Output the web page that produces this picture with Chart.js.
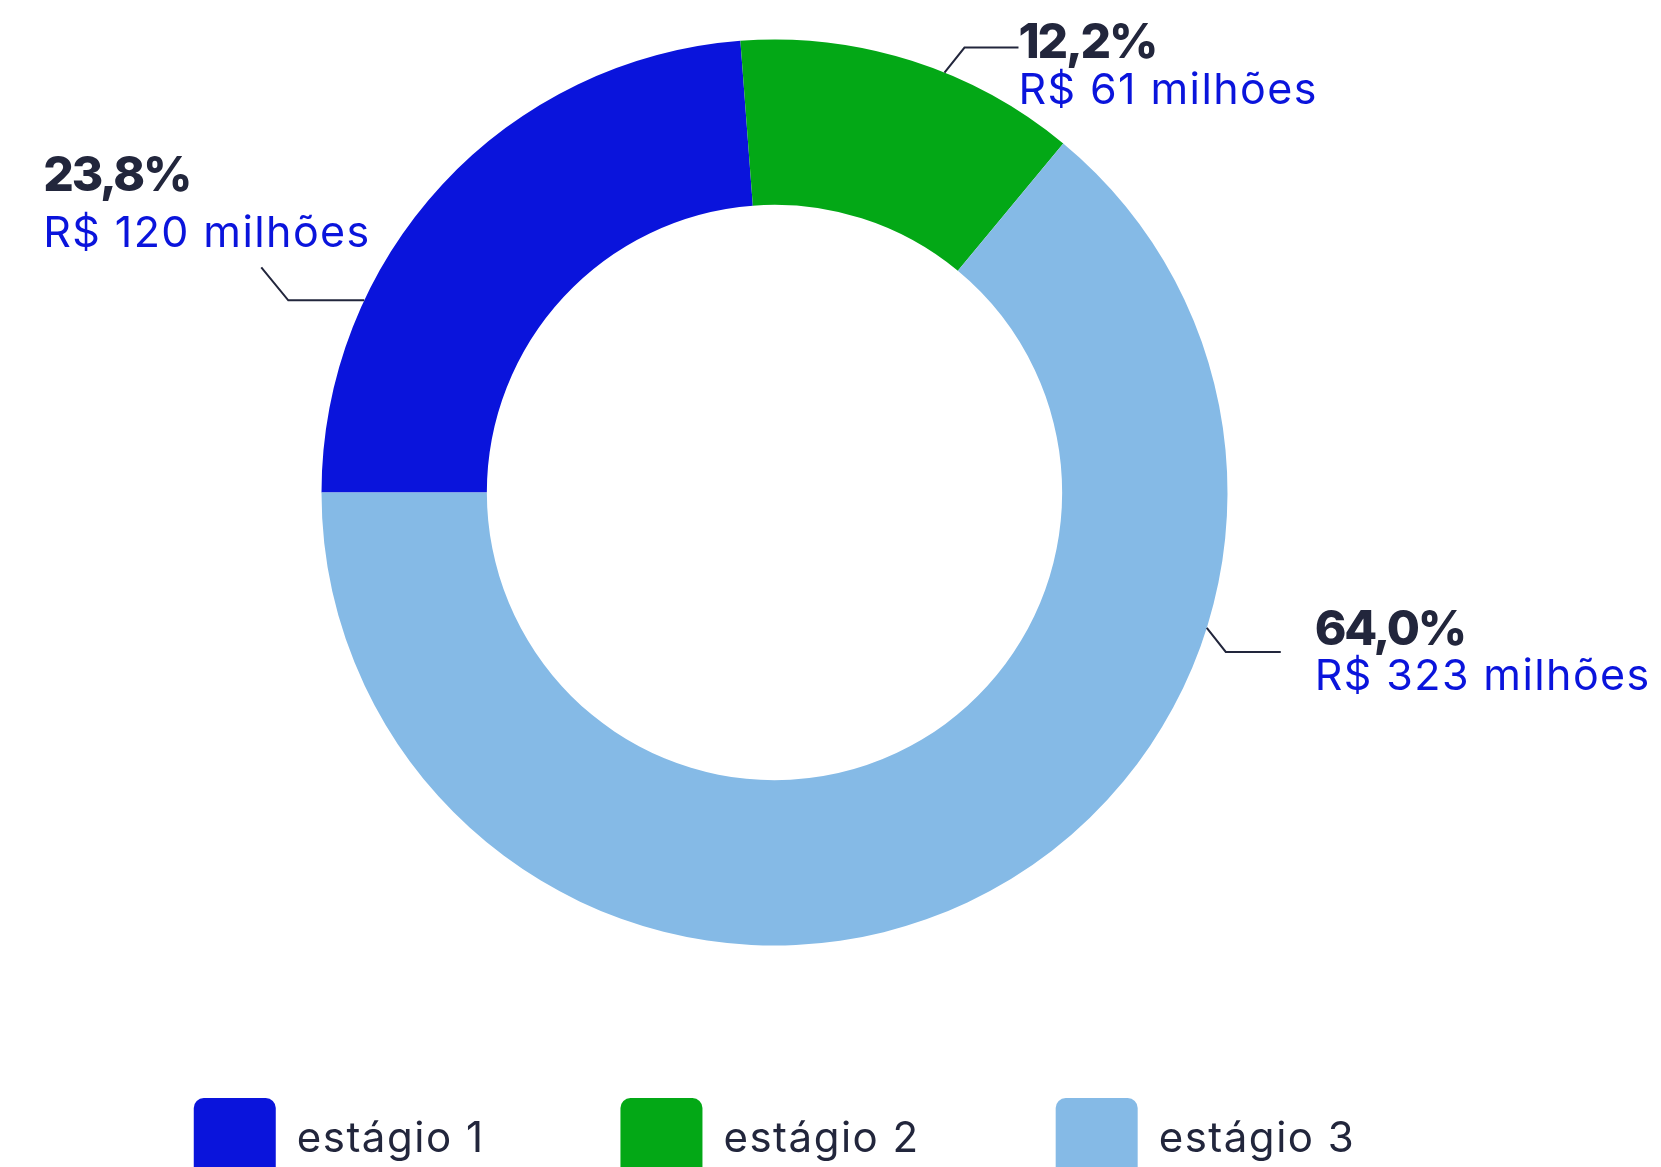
<!DOCTYPE html>
<html lang="pt-BR">
<head>
<meta charset="utf-8">
<script src="https://cdn.jsdelivr.net/npm/chart.js@4.4.1/dist/chart.umd.min.js"></script>
<style>
  html, body { margin: 0; padding: 0; background: #fff; overflow: hidden; }
  #wrap { width: 1661px; height: 1190px; }
</style>
</head>
<body>
<div id="wrap"><canvas id="estagios-chart" width="1661" height="1190"></canvas></div>
<script>
const stageLabels = ['estágio 1', 'estágio 2', 'estágio 3'];
const stageShares = [23.8, 12.2, 64.0];
const stageAmounts = [120, 61, 323];
const stageColors = ['#0a14dc', '#03a816', '#85bae6'];

const DARK = '#22263c';
const FONT = 'Inter, "Noto Sans", sans-serif';

// callout: where it leaves the ring (deg), the leader segments, text offset from leader end
const callouts = [
  { angle: -154.9, segs: [[-76, 0], [-27, -33]], text: [-218, -76, -20] },
  { angle: -67.96, segs: [[20, -25], [54, 0]], text: [0, 10, 56] },
  { angle: 17.4, segs: [[19, 24], [55, 0]], text: [34, -7, 38] }
];

const fmtShare = v => v.toFixed(1).replace('.', ',') + '%';
const fmtAmount = v => `R$ ${v} milhões`;

// wider tracking so the fallback font fills the same width as the original
// (set before layout too, so the legend measures what it draws)
const trackingPlugin = {
  id: 'tracking',
  beforeLayout(chart) { chart.ctx.letterSpacing = '1.5px'; },
  beforeDraw(chart) { chart.ctx.letterSpacing = '1.5px'; }
};

const calloutPlugin = {
  id: 'callouts',
  afterDatasetsDraw(chart) {
    const { ctx } = chart;
    const meta = chart.getDatasetMeta(0);
    ctx.save();
    meta.data.forEach((arc, i) => {
      const c = callouts[i];
      const { x, y, outerRadius } = arc.getProps(['x', 'y', 'outerRadius'], true);
      const a = c.angle * Math.PI / 180;
      let px = x + Math.cos(a) * outerRadius;
      let py = y + Math.sin(a) * outerRadius;

      ctx.beginPath();
      ctx.moveTo(px, py);
      c.segs.forEach(([dx, dy]) => { px += dx; py += dy; ctx.lineTo(px, py); });
      ctx.strokeStyle = DARK;
      ctx.lineWidth = 2;
      ctx.stroke();

      ctx.textAlign = 'left';
      ctx.textBaseline = 'alphabetic';
      ctx.fillStyle = DARK;
      ctx.letterSpacing = '-2.2px';
      ctx.font = `800 48px ${FONT}`;
      ctx.fillText(fmtShare(stageShares[i]), px + c.text[0], py + c.text[1]);
      ctx.fillStyle = stageColors[0];
      ctx.letterSpacing = '1.4px';
      ctx.font = `400 43px ${FONT}`;
      ctx.fillText(fmtAmount(stageAmounts[i]), px + c.text[0], py + c.text[2]);
    });
    ctx.restore();
  }
};

new Chart(document.getElementById('estagios-chart'), {
  type: 'doughnut',
  data: {
    labels: stageLabels,
    datasets: [{
      data: stageShares,
      backgroundColor: stageColors,
      borderWidth: 0,
      radius: 453,
      cutout: '63.5%'
    }]
  },
  options: {
    responsive: false,
    animation: false,
    rotation: -90,
    layout: { padding: { top: 23, right: 112, left: 0, bottom: 0 } },
    plugins: {
      tooltip: { enabled: false },
      legend: {
        position: 'bottom',
        labels: {
          color: DARK,
          font: { family: FONT, size: 42 },
          boxWidth: 82,
          boxHeight: 82,
          padding: 136,
          useBorderRadius: true,
          borderRadius: 10
        }
      }
    }
  },
  plugins: [trackingPlugin, calloutPlugin]
});
</script>
</body>
</html>
